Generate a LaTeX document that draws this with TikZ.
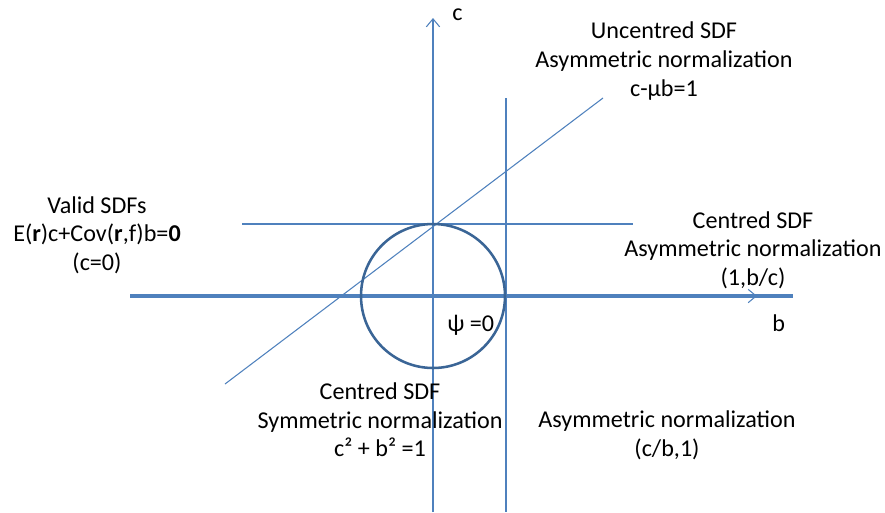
\documentclass[tikz,border=0pt]{standalone}
\usepackage{fontspec}
\setmainfont{Carlito}
\usetikzlibrary{arrows.meta}
\definecolor{lineblue}{HTML}{4F81BD}
\definecolor{circblue}{HTML}{3A6596}
\tikzset{
  thinline/.style={draw=lineblue, line width=0.8pt},
  thickline/.style={draw=lineblue, line width=2.3pt},
  axisarrow/.style={thinline, -{Straight Barb[length=6pt,width=10pt,line width=0.8pt]}},
  lbl/.style={align=center, inner sep=0pt, font=\fontsize{18.1}{21.5}\selectfont},
}
\begin{document}
\begin{tikzpicture}[x=0.75pt,y=-0.75pt]
\useasboundingbox (0,0) rectangle (885,512);
% coordinates
\coordinate (O) at (433,296);
\coordinate (cbot) at (433,512);
\coordinate (ctop) at (433,18);
\coordinate (bleft) at (130,296);
\coordinate (bright) at (793,296);
\coordinate (barrow) at (757,296);
\coordinate (hl) at (242,224);
\coordinate (hr) at (633,224);
\coordinate (vt) at (506,98);
\coordinate (vb) at (506,512);
\coordinate (dl) at (225,384);
\coordinate (du) at (603,98);
% lines
\draw[thinline] (hl) -- (hr);
\draw[thinline] (vt) -- (vb);
\draw[axisarrow] (cbot) -- (ctop);
\draw[thickline] (bleft) -- (bright);
\draw[axisarrow] (bleft) -- (barrow);
\draw[thinline] (dl) -- (du);
\draw[draw=circblue, line width=1.9pt] (O) circle[radius=72];
% labels
\node[lbl, anchor=base west] (clab) at (452,20) {c};
\node[lbl, anchor=base west] (blab) at (772,331) {b};
\node[lbl, anchor=base west] (psi) at (447,331) {ψ =0};
\node[lbl] (unc) at (664,61) {Uncentred SDF\\Asymmetric normalization\\c-µb=1};
\node[lbl] (valid) at (97,235) {Valid SDFs\\E(\textbf{r})c+Cov(\textbf{r},f)b=\textbf{0}\\(c=0)};
\node[lbl] (cright) at (753,250) {Centred SDF\\Asymmetric normalization\\(1,b/c)};
\node[lbl] (cbottom) at (380,420) {Centred SDF\\Symmetric normalization\\c² + b² =1};
\node[lbl] (asym) at (667,435) {Asymmetric normalization\\(c/b,1)};
\end{tikzpicture}
\end{document}
